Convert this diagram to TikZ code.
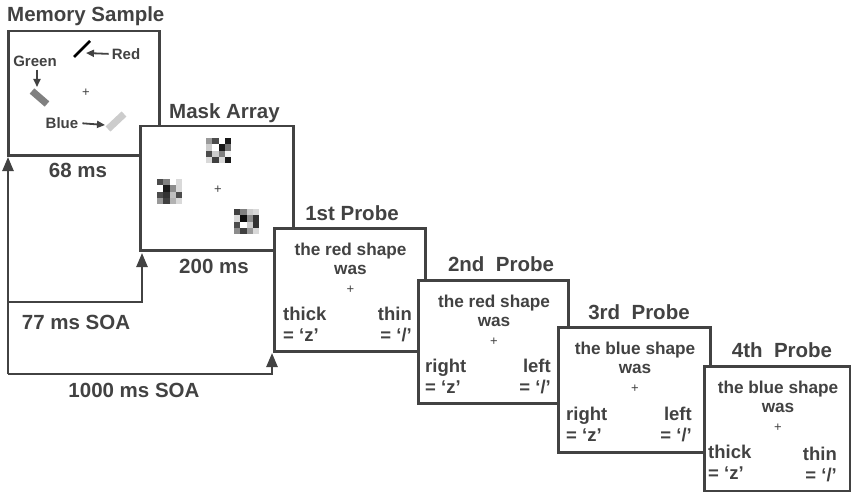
\documentclass[tikz,border=0pt]{standalone}
\usepackage{fontspec}
\setmainfont{Liberation Sans}
\usetikzlibrary{arrows.meta}
\definecolor{ink}{HTML}{424242}
\tikzstyle{panel} = [rectangle, draw=ink, line width=2.5pt, fill=white, anchor=north west, minimum width=151pt, minimum height=124pt]
\tikzstyle{title} = [text=ink, font=\fontsize{20.5}{22}\selectfont\bfseries, inner sep=0pt, anchor=base]
\tikzstyle{query} = [text=ink, font=\fontsize{17.2}{19}\selectfont\bfseries, inner sep=0pt, align=center, anchor=north]
\tikzstyle{answer} = [text=ink, font=\fontsize{18.5}{21}\selectfont\bfseries, inner sep=0pt]
\tikzstyle{cue} = [text=ink, font=\fontsize{15}{16}\selectfont\bfseries, inner sep=0pt]
\tikzstyle{fix} = [text=ink, font=\fontsize{13}{13}\selectfont, inner sep=0pt]
\tikzstyle{arrow} = [draw=ink, line width=2.5pt, -{Triangle[width=11pt,length=14pt]}]
\tikzstyle{pointer} = [draw=ink, line width=1.8pt, -{Triangle[width=7pt,length=8pt]}]

\begin{document}
\begin{tikzpicture}[x=1pt, y=-1pt]
    \useasboundingbox (0,0) rectangle (851,492);

    % memory sample
    \node (mem) [panel] at (7,30) {};
    \node (memlbl) [title, anchor=base west] at (7,22) {Memory Sample};
    \node (memtime) [title] at (78,177) {68 ms};
    \draw[black, line width=2.6pt] (74,57) -- (90,41);
    \draw[black!50, line width=7pt] (32,91) -- (47,104);
    \draw[black!20, line width=7pt] (108,129) -- (124,114);
    \node (red) [cue] at (126,54) {Red};
    \node (green) [cue] at (35,61) {Green};
    \node (blue) [cue] at (62,123) {Blue};
    \coordinate (redtip) at (86,53);
    \coordinate (greentip) at (37,87);
    \coordinate (bluetip) at (105,125);
    \draw[pointer, shorten <=3pt] (red.west) -- (redtip);
    \draw[pointer, shorten <=3pt] (green.south -| greentip) -- (greentip);
    \draw[pointer, shorten <=4pt] (blue.east) -- (bluetip);
    \node (memfix) [fix] at (86,93) {+};

    % mask array
    \node (mask) [panel, minimum width=153pt] at (139,125) {};
    \node (masklbl) [title] at (224.5,119) {Mask Array};
    \node (masktime) [title] at (214,273) {200 ms};
    \foreach \row [count=\r from 0] in {{40,70,0,90},{20,0,90,55},{70,20,50,5},{15,75,15,90}}
        \foreach \g [count=\c from 0] in \row
            \fill[black!\g] (206+\c*6.3,138+\r*6.3) rectangle ++(6.3,6.3);
    \foreach \row [count=\r from 0] in {{70,50,0,15},{0,90,45,15},{70,80,25,70},{40,75,30,15}}
        \foreach \g [count=\c from 0] in \row
            \fill[black!\g] (157+\c*6.3,179+\r*6.3) rectangle ++(6.3,6.3);
    \foreach \row [count=\r from 0] in {{75,50,20,15},{15,95,45,80},{70,0,20,80},{45,75,40,15}}
        \foreach \g [count=\c from 0] in \row
            \fill[black!\g] (234+\c*6.3,209+\r*6.3) rectangle ++(6.3,6.3);
    \node (maskfix) [fix] at (218,190) {+};

    % probes
    \node (p1) [panel, minimum height=123pt] at (273,227) {};
    \node (p1lbl) [title] at (352,220) {1st Probe};
    \node (p1q) [query] at (350.5,243) {the red shape\\was};
    \node (p1fix) [fix] at (350.5,290) {+};
    \node (p1a) [answer, align=left, anchor=north west] at (283,307) {thick\\= ‘z’};
    \node (p1b) [answer, align=right, anchor=north east] at (412,307) {thin\\= ‘/’};

    \node (p2) [panel, minimum width=150pt, minimum height=123pt] at (417,279) {};
    \node (p2lbl) [title] at (501,271) {2nd~~Probe};
    \node (p2q) [query] at (494,295) {the red shape\\was};
    \node (p2fix) [fix] at (494,342) {+};
    \node (p2a) [answer, align=left, anchor=north west] at (425,359) {right\\= ‘z’};
    \node (p2b) [answer, align=right, anchor=north east] at (551,359) {left\\= ‘/’};

    \node (p3) [panel, minimum width=152pt, minimum height=125pt] at (557,326) {};
    \node (p3lbl) [title] at (639,319) {3rd~~Probe};
    \node (p3q) [query] at (635,342) {the blue shape\\was};
    \node (p3fix) [fix] at (635,389) {+};
    \node (p3a) [answer, align=left, anchor=north west] at (566,407) {right\\= ‘z’};
    \node (p3b) [answer, align=right, anchor=north east] at (692,407) {left\\= ‘/’};

    \node (p4) [panel, minimum width=146pt, minimum height=125pt] at (703,365) {};
    \node (p4lbl) [title] at (782,357) {4th~~Probe};
    \node (p4q) [query] at (778,381) {the blue shape\\was};
    \node (p4fix) [fix] at (778,428) {+};
    \node (p4a) [answer, align=left, anchor=north west] at (708,445) {thick\\= ‘z’};
    \node (p4b) [answer, align=right, anchor=north east] at (837,447) {thin\\= ‘/’};

    % onsets
    \coordinate (corner) at (8,374);
    \coordinate (mid) at (8,302);
    \coordinate (memtip) at (8,157);
    \coordinate (masktip) at (142,253);
    \coordinate (p1tip) at (272,353);
    \draw[arrow] (corner) -- (memtip);
    \draw[arrow] (mid) -| (masktip);
    \draw[arrow] (corner) -| (p1tip);
    \node (soashort) [title] at (76,329) {77 ms SOA};
    \node (soalong) [title] at (134,397) {1000 ms SOA};
\end{tikzpicture}
\end{document}
